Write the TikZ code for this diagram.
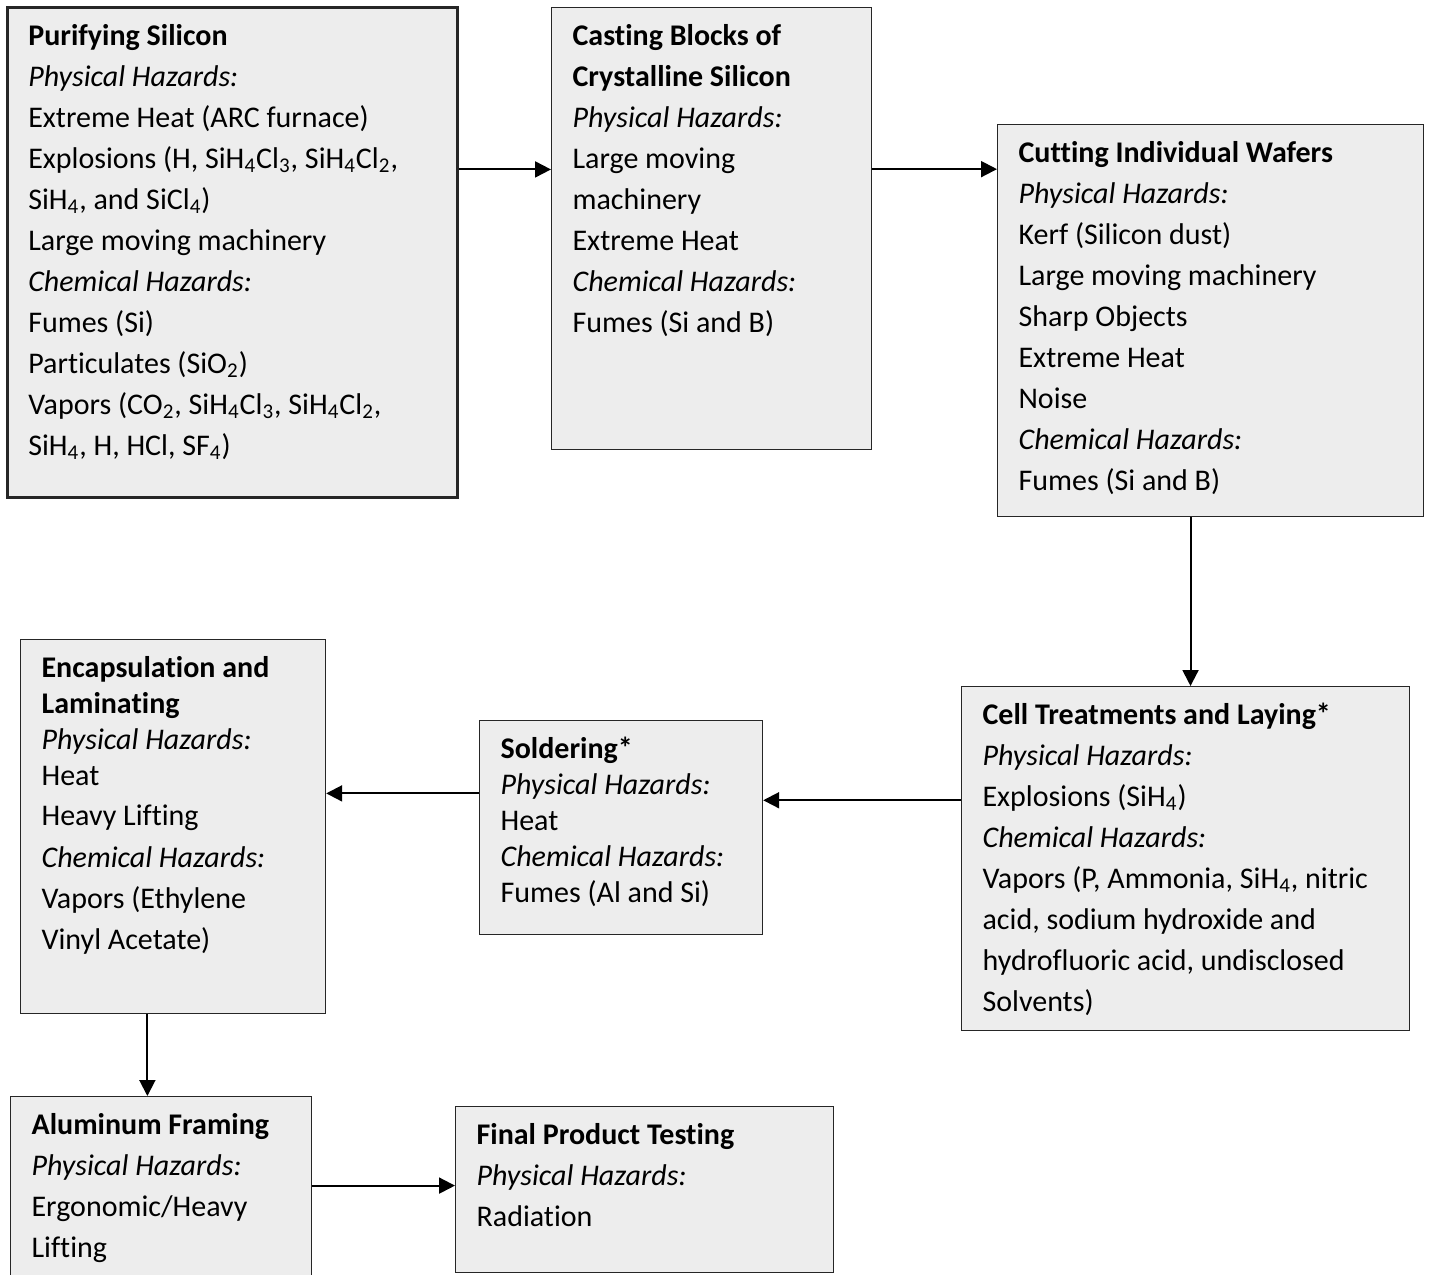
\documentclass[tikz,border=0pt]{standalone}
\usepackage{fontspec}
\setmainfont{Carlito}[Ligatures=NoCommon]
\usetikzlibrary{arrows.meta,calc}

\definecolor{boxgray}{RGB}{237,237,237}

\begin{document}
\begin{tikzpicture}[
    x=0.5pt, y=-0.5pt,
    stagebox/.style={draw=black!85, line width=0.6pt, fill=boxgray, anchor=north west, align=flush left,
        inner xsep=10.5pt, inner ysep=0pt, text height=19pt,
        font=\fontsize{15pt}{20.5pt}\selectfont},
    firstbox/.style={stagebox, line width=1.3pt},
    tightbox/.style={stagebox, font=\fontsize{15pt}{18pt}\selectfont},
    flow/.style={line width=1pt, -{Triangle[length=8pt,width=8pt]}}
]

    \useasboundingbox (0,0) rectangle (1431,1275);
    \clip (0,0) rectangle (1431,1275);

    % Stage 1: Purifying Silicon

    \node[firstbox, text width=204pt, text depth=226pt] (purify) at (6,6) {%
        \textbf{Purifying Silicon}\\
        \textit{Physical Hazards:}\\
        Extreme Heat (ARC furnace)\\
        Explosions (H, SiH\textsubscript{4}Cl\textsubscript{3}, SiH\textsubscript{4}Cl\textsubscript{2},\\
        SiH\textsubscript{4}, and SiCl\textsubscript{4})\\
        Large moving machinery\\
        \textit{Chemical Hazards:}\\
        Fumes (Si)\\
        Particulates (SiO\textsubscript{2})\\
        Vapors (CO\textsubscript{2}, SiH\textsubscript{4}Cl\textsubscript{3}, SiH\textsubscript{4}Cl\textsubscript{2},\\
        SiH\textsubscript{4}, H, HCl, SF\textsubscript{4})};

    % Stage 2: Casting Blocks

    \node[stagebox, text width=139pt, text depth=202pt] (casting) at (551,7) {%
        \textbf{Casting Blocks of}\\
        \textbf{Crystalline Silicon}\\
        \textit{Physical Hazards:}\\
        Large moving\\
        machinery\\
        Extreme Heat\\
        \textit{Chemical Hazards:}\\
        Fumes (Si and B)};

    % Stage 3: Cutting Wafers

    \node[stagebox, text width=192pt, text depth=177pt] (cutting) at (997,124) {%
        \textbf{Cutting Individual Wafers}\\
        \textit{Physical Hazards:}\\
        Kerf (Silicon dust)\\
        Large moving machinery\\
        Sharp Objects\\
        Extreme Heat\\
        Noise\\
        \textit{Chemical Hazards:}\\
        Fumes (Si and B)};

    % Stage 4: Cell Treatments

    \node[stagebox, text width=203pt, text depth=153pt] (celltreat) at (961,686) {%
        \textbf{Cell Treatments and Laying*}\\
        \textit{Physical Hazards:}\\
        Explosions (SiH\textsubscript{4})\\
        \textit{Chemical Hazards:}\\
        Vapors (P, Ammonia, SiH\textsubscript{4}, nitric\\
        acid, sodium hydroxide and\\
        hydrofluoric acid, undisclosed\\
        Solvents)};

    % Stage 5: Soldering

    \node[tightbox, text width=120.5pt, text depth=88pt] (soldering) at (479,720) {%
        \textbf{Soldering*}\\
        \textit{Physical Hazards:}\\
        Heat\\
        \textit{Chemical Hazards:}\\
        Fumes (Al and Si)};

    % Stage 6: Encapsulation

    \node[tightbox, text width=131.5pt, text depth=168pt] (encaps) at (20,639) {%
        \textbf{Encapsulation and}\\
        \textbf{Laminating}\\
        \textit{Physical Hazards:}\\
        Heat\\[2pt]
        Heavy Lifting\\[3pt]
        \textit{Chemical Hazards:}\\[2.5pt]
        Vapors (Ethylene\\[2.5pt]
        Vinyl Acetate)};

    % Stage 7: Aluminum Framing

    \node[stagebox, text width=129.5pt, text depth=81pt] (framing) at (10,1096) {%
        \textbf{Aluminum Framing}\\
        \textit{Physical Hazards:}\\
        Ergonomic/Heavy\\
        Lifting};

    % Stage 8: Final Testing

    \node[stagebox, text width=168pt, text depth=64pt] (testing) at (455,1106) {%
        \textbf{Final Product Testing}\\
        \textit{Physical Hazards:}\\
        Radiation};

    % Arrow ends

    \coordinate (in2) at ($(casting.north west)!.3665!(casting.south west)$);
    \coordinate (in3) at ($(cutting.north west)!.1148!(cutting.south west)$);
    \coordinate (out3) at ($(cutting.south west)!.453!(cutting.south east)$);
    \coordinate (out4) at ($(celltreat.north west)!.331!(celltreat.south west)$);
    \coordinate (out5) at ($(soldering.north west)!.341!(soldering.south west)$);
    \coordinate (out6) at ($(encaps.south west)!.416!(encaps.south east)$);
    \coordinate (in8) at ($(testing.north west)!.476!(testing.south west)$);

    % Connectors

    \draw[flow] (in2 -| purify.east) -- (in2);
    \draw[flow] (in3 -| casting.east) -- (in3);
    \draw[flow] (out3) -- (out3 |- celltreat.north);
    \draw[flow] (out4) -- (out4 -| soldering.east);
    \draw[flow] (out5) -- (out5 -| encaps.east);
    \draw[flow] (out6) -- (out6 |- framing.north);
    \draw[flow] (in8 -| framing.east) -- (in8);

\end{tikzpicture}
\end{document}
